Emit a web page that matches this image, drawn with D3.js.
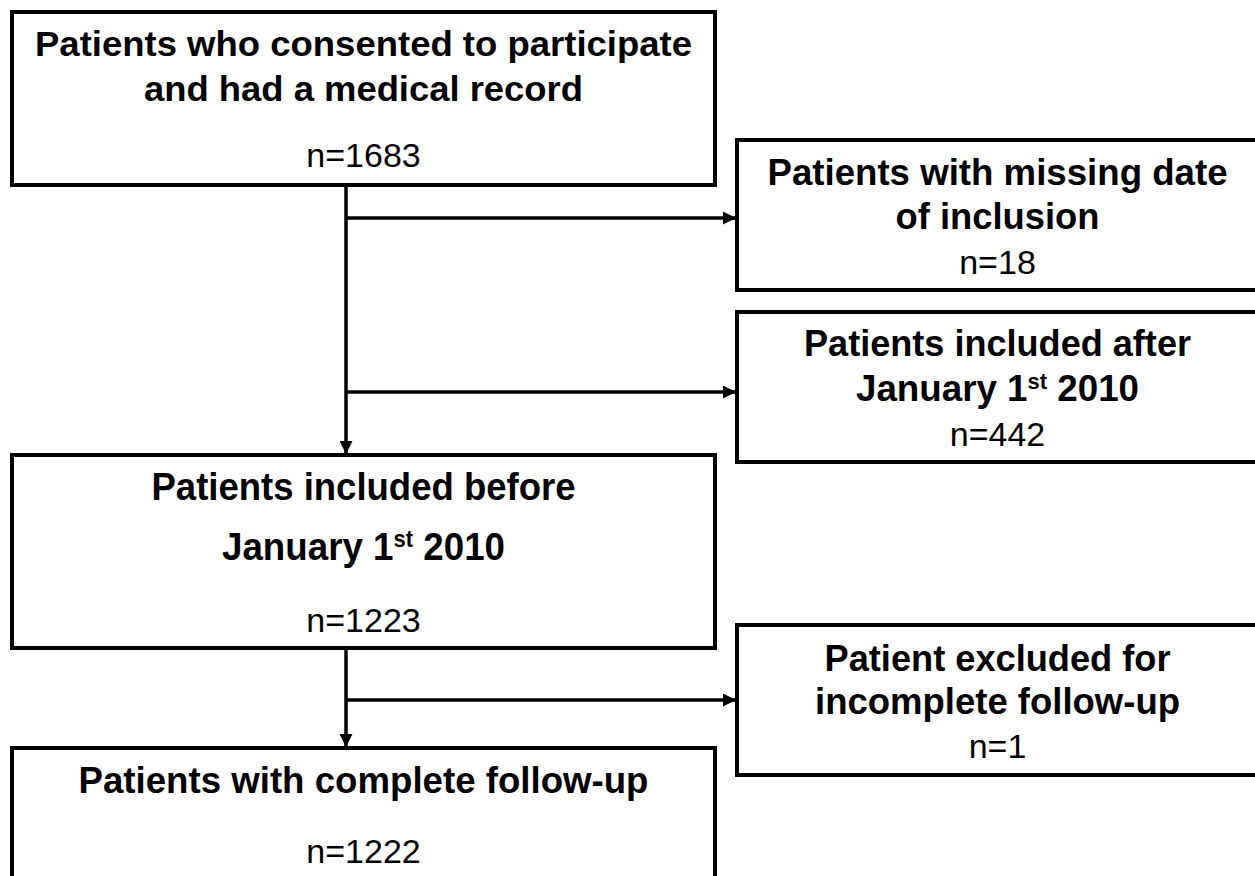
<!DOCTYPE html>
<html>
<head>
<meta charset="utf-8">
<script src="https://cdn.jsdelivr.net/npm/d3@7"></script>
<style>
  html, body { margin: 0; padding: 0; background: #fff; }
  svg { display: block; }
</style>
</head>
<body>
<svg id="chart" width="1255" height="876"></svg>
<script>
// ---- data ----
const mainTitles = [
  ["Patients who consented to participate", "and had a medical record"],
  ["Patients included before", "January 1^st 2010"],
  ["Patients with complete follow-up"]
];
const mainCounts = [1683, 1223, 1222];
const sideTitles = [
  ["Patients with missing date", "of inclusion"],
  ["Patients included after", "January 1^st 2010"],
  ["Patient excluded for", "incomplete follow-up"]
];
const sideCounts = [18, 442, 1];

// ---- layout ----
const mainLayout = [
  { x: 12, y: 12, w: 703, h: 173, base: [56, 101, 167], len: [657, 439, 0], fs: [35, 35, 34] },
  { x: 12, y: 455, w: 703, h: 193, base: [500, 560, 632], len: [424, 283, 0], fs: [39, 39, 34] },
  { x: 12, y: 748, w: 703, h: 170, base: [793, 863], len: [570, 0], fs: [36, 34] }
];
const sideLayout = [
  { x: 737, y: 140, w: 521, h: 150, base: [185, 229, 274], len: [460, 204, 0], fs: [36, 36, 34] },
  { x: 737, y: 312, w: 521, h: 150, base: [356, 401, 446], len: [387, 283, 0], fs: [36, 36, 34] },
  { x: 737, y: 625, w: 521, h: 150, base: [671, 714, 758], len: [346, 365, 0], fs: [36, 36, 34] }
];
const spineX = 346;
const branchY = [218, 392, 700];

const svg = d3.select("#chart");
const defs = svg.append("defs");
defs.append("marker").attr("id", "arrow")
  .attr("viewBox", "0 0 10 10").attr("refX", 10).attr("refY", 5)
  .attr("markerWidth", 13).attr("markerHeight", 13).attr("markerUnits", "userSpaceOnUse")
  .attr("orient", "auto")
  .append("path").attr("d", "M0,0 L10,5 L0,10 Z").attr("fill", "#000");

function boxes(titles, counts, layout) {
  const data = titles.map((t, i) => ({
    lines: t.map(s => ({ text: s, bold: true })).concat([{ text: "n=" + counts[i], bold: false }]),
    L: layout[i]
  }));
  const g = svg.selectAll(null).data(data).enter().append("g");
  g.append("rect")
    .attr("x", d => d.L.x).attr("y", d => d.L.y)
    .attr("width", d => d.L.w).attr("height", d => d.L.h)
    .attr("fill", "#fff").attr("stroke", "#000").attr("stroke-width", 4);
  g.each(function (d) {
    const cx = d.L.x + d.L.w / 2;
    d.lines.forEach((ln, j) => {
      const t = d3.select(this).append("text")
        .attr("x", cx).attr("y", d.L.base[j])
        .attr("text-anchor", "middle")
        .attr("font-family", "'Liberation Sans', Arial, sans-serif")
        .attr("font-weight", ln.bold ? "bold" : "normal")
        .attr("font-size", d.L.fs[j])
        .attr("fill", "#000");
      if (d.L.len[j]) {
        t.attr("textLength", d.L.len[j]).attr("lengthAdjust", "spacingAndGlyphs");
      }
      if (ln.text.includes("^")) {
        const m = ln.text.match(/^(.*?\d)\^(\w+)(.*)$/);
        const fs = d.L.fs[j];
        t.append("tspan").text(m[1]);
        t.append("tspan").attr("font-size", fs * 0.6).attr("dy", -fs * 0.33).text(m[2]);
        t.append("tspan").attr("dy", fs * 0.33).text(m[3]);
      } else {
        t.text(ln.text);
      }
    });
  });
}

// connectors
const main0 = mainLayout[0], main1 = mainLayout[1], main2 = mainLayout[2];
const conn = svg.append("g").attr("stroke", "#000").attr("stroke-width", 3.5).attr("fill", "none");
conn.append("line").attr("x1", spineX).attr("y1", main0.y + main0.h).attr("x2", spineX).attr("y2", main1.y - 1)
  .attr("marker-end", "url(#arrow)");
conn.append("line").attr("x1", spineX).attr("y1", main1.y + main1.h).attr("x2", spineX).attr("y2", main2.y - 1)
  .attr("marker-end", "url(#arrow)");
conn.selectAll(null).data(branchY).enter().append("line")
  .attr("x1", spineX).attr("y1", d => d).attr("x2", sideLayout[0].x - 1).attr("y2", d => d)
  .attr("marker-end", "url(#arrow)");

boxes(mainTitles, mainCounts, mainLayout);
boxes(sideTitles, sideCounts, sideLayout);
</script>
</body>
</html>
